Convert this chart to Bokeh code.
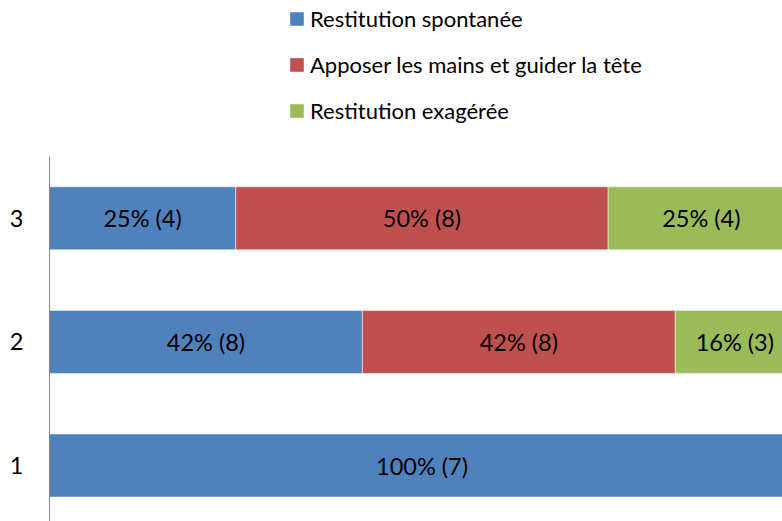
from bokeh.plotting import figure
from bokeh.models import ColumnDataSource, Legend, LegendItem, FixedTicker
from bokeh.layouts import column
from bokeh.embed import file_html
from bokeh.resources import INLINE
from bokeh.core.properties import value

categories = [1, 2, 3]
series_names = ["Restitution spontanée", "Apposer les mains et guider la tête", "Restitution exagérée"]
pct_spontanee = [100, 42, 25]
pct_apposer = [0, 42, 50]
pct_exageree = [0, 16, 25]
cnt_spontanee = [7, 8, 4]
cnt_apposer = [0, 8, 8]
cnt_exageree = [0, 3, 4]
colors = ["#4F81BD", "#C0504D", "#9BBB59"]

FONT = "Lato"
FS = "23.5px"
LFS = "22px"

# Legend strip on top
lg = figure(width=782, height=156, output_backend="svg", toolbar_location=None,
            x_range=(0, 1), y_range=(0, 1),
            min_border_left=0, min_border_right=0, min_border_bottom=0, min_border_top=0)
lg.outline_line_color = None
lg.axis.visible = False
lg.grid.visible = False

# Main chart
p = figure(width=782, height=365, output_backend="svg", toolbar_location=None,
           x_range=(0, 98.4), y_range=(0.547, 3.5),
           min_border_left=49, min_border_right=0, min_border_bottom=0, min_border_top=0)
p.outline_line_color = None
p.grid.visible = False
p.xaxis.visible = False

series = [(pct_spontanee, cnt_spontanee), (pct_apposer, cnt_apposer), (pct_exageree, cnt_exageree)]
left = [0, 0, 0]
items = []
lab_x, lab_y, lab_t = [], [], []
for (pcts, cnts), name, col in zip(series, series_names, colors):
    right = [l + v for l, v in zip(left, pcts)]
    src = ColumnDataSource(dict(y=categories, left=left, right=right))
    p.hbar(y="y", left="left", right="right", height=0.51, source=src,
           fill_color=col, line_color="white", line_alpha=0.5, line_width=1)
    # off-range proxy renderer, only used for the legend swatch
    proxy = lg.hbar(y=[-5], left=[0], right=[1], height=0.5, fill_color=col, line_color=None)
    items.append(LegendItem(label=name, renderers=[proxy]))
    for c, l, v, n in zip(categories, left, pcts, cnts):
        if v > 0:
            lab_x.append(l + v / 2)
            lab_y.append(c)
            lab_t.append(f"{v}% ({n})")
    left = right

p.text(x=lab_x, y=lab_y, text=lab_t, text_align="center", text_baseline="middle",
       text_font=value(FONT), text_font_size=FS, text_color="black")

yax = p.yaxis[0]
yax.ticker = FixedTicker(ticks=categories)
yax.major_tick_line_color = None
yax.minor_tick_line_color = None
yax.major_tick_out = 0
yax.major_tick_in = 0
yax.axis_line_color = "#868686"
yax.major_label_standoff = 26
yax.major_label_text_font = FONT
yax.major_label_text_font_size = FS
yax.major_label_text_color = "black"

legend = Legend(items=items, location=(239, 32), orientation="vertical",
                border_line_color=None, background_fill_alpha=0, padding=0, margin=0,
                glyph_width=17, glyph_height=17, label_height=20, spacing=19,
                label_standoff=5, label_text_font=FONT, label_text_font_size=LFS,
                label_text_color="black")
lg.add_layout(legend, "center")

layout = column(lg, p, spacing=0)
open("out.html", "w").write(file_html(layout, INLINE))
